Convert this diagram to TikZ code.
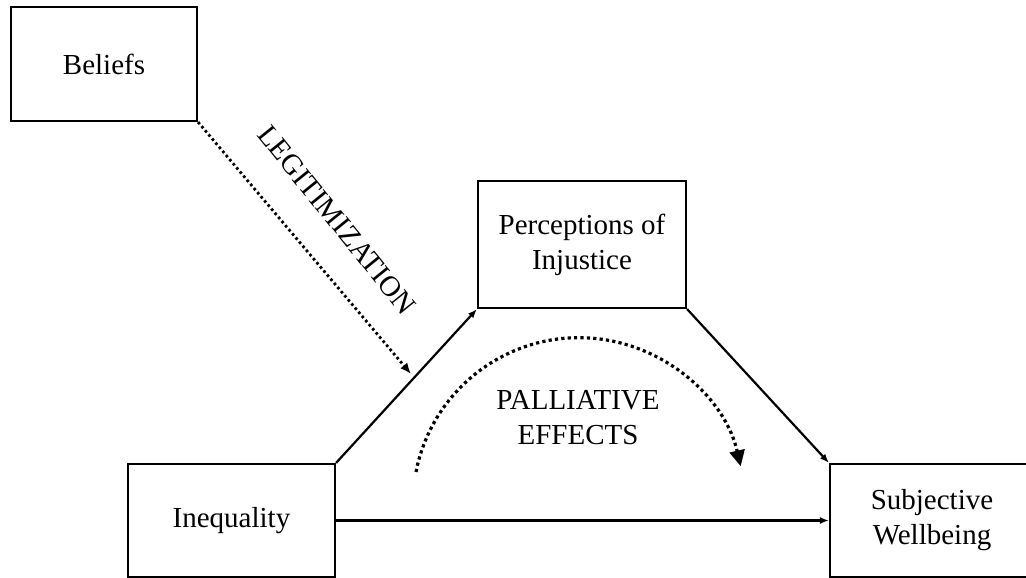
\documentclass[tikz,border=0pt]{standalone}
\usepackage{fontspec}
\setmainfont{Liberation Serif}
\usetikzlibrary{arrows.meta}

\begin{document}
\begin{tikzpicture}[x=1pt, y=-1pt,
  every node/.style={font=\fontsize{29}{35}\selectfont},
  box/.style={draw, line width=2.2pt, inner sep=0pt, align=center},
  link/.style={line width=2.2pt, -{Latex[length=9pt,width=7pt]}},
  legit/.style={line width=2.8pt, dash pattern=on 2.6pt off 2.8pt,
    -{Latex[length=11pt,width=9pt]}},
  palliative/.style={line width=3.2pt, dash pattern=on 3.2pt off 3.2pt,
    -{Triangle[length=16pt,width=15pt]}}]

\useasboundingbox (0,0) rectangle (1026,578);
\fill[white] (0,0) rectangle (1026,578);

% boxes
\node[box, minimum width=186pt, minimum height=114pt] (bel) at (104,64) {Beliefs};
\node[box, minimum width=208pt, minimum height=127pt] (perc) at (582,244.5)
  {Perceptions of\\Injustice};
\node[box, minimum width=207pt, minimum height=113pt] (ineq) at (231.5,520.5) {Inequality};
\node[box, minimum width=204pt, minimum height=113pt] (swb) at (932,520.5)
  {Subjective\\Wellbeing};

% mediation path and direct path
\draw[link] (ineq.north east) -- (perc.south west);
\draw[link] (perc.south east) -- (swb.north west);
\draw[link] (ineq.east) -- (swb.west);

% legitimization
\coordinate (legitend) at (411,374);
\draw[legit] (bel.south east) -- (legitend);
\node[rotate=-51] (legitlabel) at (337,220) {LEGITIMIZATION};

% palliative effects arc
\coordinate (arcstart) at (416,472);
\draw[palliative] (arcstart) arc[start angle=169, end angle=13, radius=166pt];
\node[align=center] (pall) at (578,418) {PALLIATIVE\\EFFECTS};

\end{tikzpicture}
\end{document}
